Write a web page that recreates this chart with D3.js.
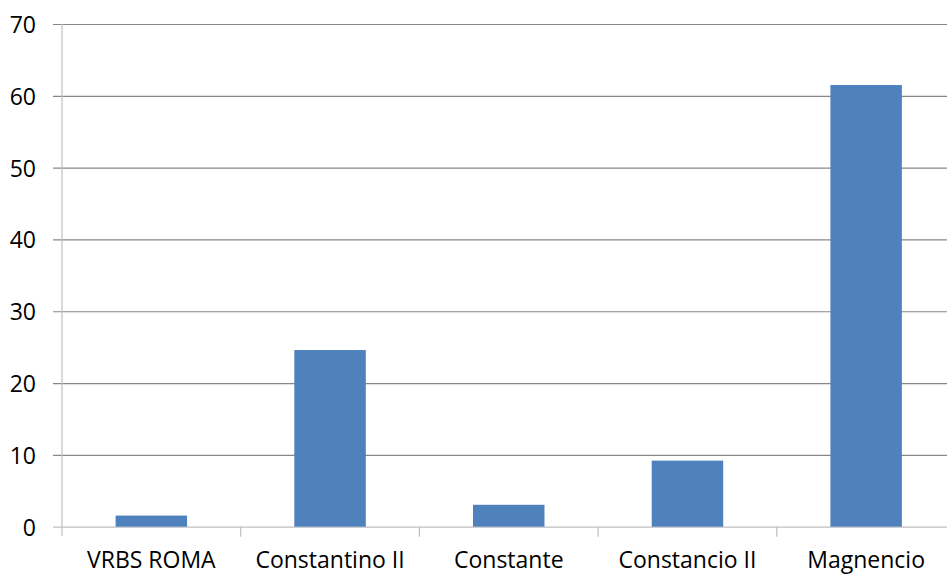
<!DOCTYPE html>
<html>
<head>
<meta charset="utf-8">
<script src="https://cdn.jsdelivr.net/npm/d3@7"></script>
<style>
  html, body { margin: 0; padding: 0; background: #fff; overflow: hidden; }
  svg { display: block; font-family: "Open Sans", sans-serif; }
</style>
</head>
<body>
<div id="chart"></div>
<script>
const categories = ['VRBS ROMA', 'Constantino II', 'Constante', 'Constancio II', 'Magnencio'];
const values = [1.55, 24.6, 3.05, 9.2, 61.5];
const yTicks = [0, 10, 20, 30, 40, 50, 60, 70];

const width = 947;
const height = 574;

// plot area runs a little past the right edge, as in the reference
const plotLeft = 62;
const plotRight = 955.5;
const plotTop = 24;
const plotBottom = 526.7;

const svg = d3.select('#chart')
    .append('svg')
    .attr('width', width)
    .attr('height', height);

const xScale = d3.scaleBand()
    .domain(categories)
    .range([plotLeft, plotRight])
    .paddingInner(0.6)
    .paddingOuter(0.3);

const yScale = d3.scaleLinear()
    .domain([0, 70])
    .range([plotBottom, plotTop]);

// gridlines + y labels
const yAxis = d3.axisLeft(yScale)
    .tickValues(yTicks)
    .tickSize(0)
    .tickFormat(d3.format('d'));

const gy = svg.append('g')
    .attr('transform', `translate(${plotLeft - 9}, 0)`)
    .call(yAxis)
    .attr('font-family', null)
    .attr('font-size', null);

gy.select('.domain').remove();
gy.selectAll('.tick line')
    .attr('x1', 0)
    .attr('x2', plotRight - plotLeft + 9)
    .attr('stroke', d => d === 0 ? '#bfbfbf' : '#878787')
    .attr('stroke-width', 1.2);
gy.selectAll('.tick text')
    .attr('x', 36 - (plotLeft - 9))
    .attr('dy', '0.37em')
    .style('font-size', '23px')
    .attr('fill', '#000');

// vertical axis line
svg.append('line')
    .attr('x1', plotLeft).attr('x2', plotLeft)
    .attr('y1', plotTop).attr('y2', plotBottom + 9)
    .attr('stroke', '#bfbfbf')
    .attr('stroke-width', 1.2);

// category separators at the bottom
const gap = (xScale.step() - xScale.bandwidth()) / 2;
svg.selectAll('.sep')
    .data(categories.slice(1))
    .enter()
    .append('line')
    .attr('class', 'sep')
    .attr('x1', d => xScale(d) - gap)
    .attr('x2', d => xScale(d) - gap)
    .attr('y1', plotBottom)
    .attr('y2', plotBottom + 10)
    .attr('stroke', '#bfbfbf')
    .attr('stroke-width', 1.2);

// bars
svg.selectAll('.bar')
    .data(categories)
    .enter()
    .append('rect')
    .attr('class', 'bar')
    .attr('x', d => xScale(d))
    .attr('width', xScale.bandwidth())
    .attr('y', (d, i) => yScale(values[i]))
    .attr('height', (d, i) => yScale(0) - yScale(values[i]))
    .attr('fill', '#4f81bd');

// category labels
svg.selectAll('.xlabel')
    .data(categories)
    .enter()
    .append('text')
    .attr('class', 'xlabel')
    .attr('x', d => xScale(d) + xScale.bandwidth() / 2)
    .attr('y', plotBottom + 41)
    .attr('text-anchor', 'middle')
    .style('font-size', '23px')
    .attr('fill', '#000')
    .text(d => d);
</script>
</body>
</html>
